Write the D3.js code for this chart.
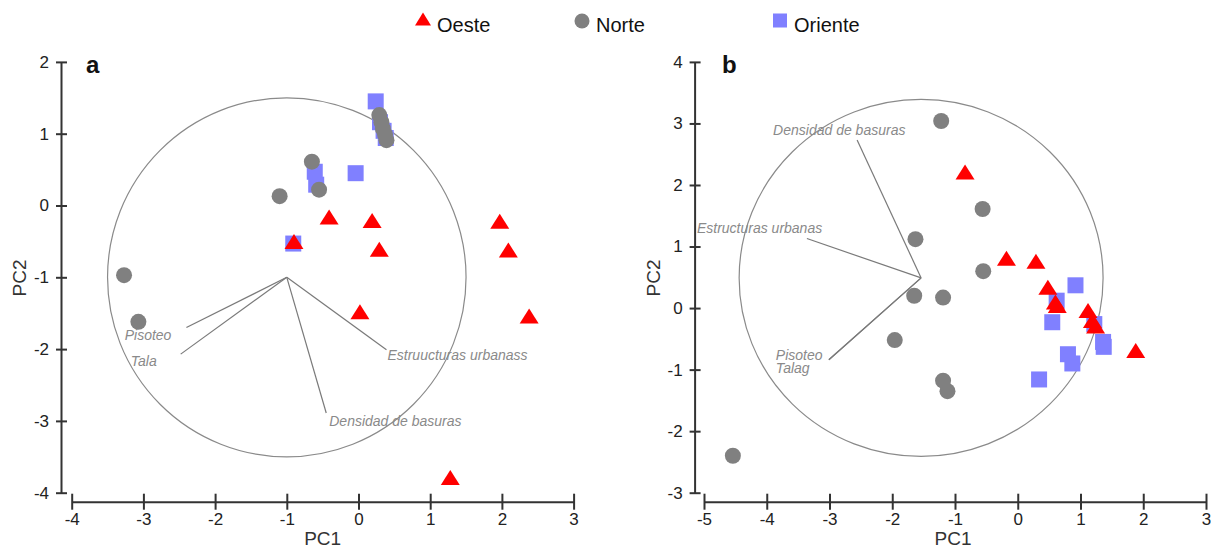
<!DOCTYPE html>
<html>
<head>
<meta charset="utf-8">
<script src="https://cdn.jsdelivr.net/npm/d3@7"></script>
<style>
  body { margin: 0; background: #fff; }
  svg { display: block; font-family: "Liberation Sans", Arial, sans-serif; }
  .tick text { font-family: "Liberation Sans", Arial, sans-serif; font-size: 17px; fill: #222; }
</style>
</head>
<body>
<svg id="chart" width="1211" height="550"></svg>
<script>
// ---- panel a : PC scores per zone [PC1, PC2]
var aOeste = [[-0.90,-0.50],[-0.41,-0.16],[0.19,-0.21],[0.29,-0.61],[1.97,-0.22],
              [2.09,-0.62],[0.02,-1.48],[2.38,-1.54],[1.28,-3.79]];
var aNorte = [[-3.27,-0.97],[-3.07,-1.62],[-1.10,0.13],[-0.65,0.61],[-0.55,0.22],
              [0.29,1.26],[0.32,1.16],[0.34,1.07],[0.37,0.99],[0.39,0.91]];
var aOriente = [[0.24,1.45],[0.30,1.16],[0.35,1.04],[0.38,0.94],[-0.04,0.45],
                [-0.61,0.47],[-0.59,0.29],[-0.91,-0.53]];
// loadings: label, end PC1, end PC2 (origin at circle centre)
var aVectors = [["Pisoteo",-2.40,-1.70],["Tala",-2.48,-2.07],
                ["Estruucturas urbanass",0.39,-2.01],["Densidad de basuras",-0.45,-2.89]];
var aCircle = {cx: -1, cy: -1, r: 2.5};

// ---- panel b
var bOeste = [[-0.84,2.21],[-0.18,0.81],[0.29,0.76],[0.48,0.34],[0.60,0.10],
              [0.63,0.04],[1.12,-0.04],[1.19,-0.20],[1.24,-0.29],[1.88,-0.69]];
var bNorte = [[-1.22,3.04],[-0.56,1.61],[-1.63,1.12],[-0.55,0.60],[-1.65,0.20],
              [-1.19,0.17],[-1.96,-0.52],[-1.19,-1.18],[-1.12,-1.35],[-4.54,-2.40]];
var bOriente = [[0.92,0.37],[0.62,0.12],[0.55,-0.23],[1.22,-0.26],[1.36,-0.55],
                [1.37,-0.63],[0.80,-0.75],[0.87,-0.90],[0.34,-1.16]];
var bVectors = [["Densidad de basuras",-2.56,2.73],["Estructuras urbanas",-3.36,1.13],
                ["Pisoteo",-3.01,-0.84],["Talag",-3.01,-0.84]];
var bCircle = {cx: -1.54, cy: 0.49, r: 2.9};

var groups = ["Oeste","Norte","Oriente"];

var colors = {Oeste: "#ff0000", Norte: "#808080", Oriente: "#8080ff"};
var triPath = "M0,-7.5L9.5,7.5L-9.5,7.5Z";

var svg = d3.select("#chart");

// legend
var legend = [
  {name: groups[0], mx: 423, tx: 437},
  {name: groups[1], mx: 582, tx: 596},
  {name: groups[2], mx: 780, tx: 794}
];
legend.forEach(function(l) {
  if (l.name == "Oeste") {
    svg.append("path").attr("d", "M0,-6.5L8,6.5L-8,6.5Z")
      .attr("transform", "translate(" + l.mx + ",19)").attr("fill", colors.Oeste);
  } else if (l.name == "Norte") {
    svg.append("circle").attr("cx", l.mx).attr("cy", 21).attr("r", 7.5).attr("fill", colors.Norte);
  } else {
    svg.append("rect").attr("x", l.mx - 7).attr("y", 13.5).attr("width", 14).attr("height", 14)
      .attr("fill", colors.Oriente);
  }
  svg.append("text").attr("x", l.tx).attr("y", 31.5).attr("font-size", "20px")
    .attr("fill", "#111").text(l.name);
});

function drawPanel(cfg) {
  var x = d3.scaleLinear().domain(cfg.xDomain).range([cfg.left, cfg.right]);
  var y = d3.scaleLinear().domain(cfg.yDomain).range([cfg.bottom, cfg.top]);
  var g = svg.append("g");

  // x axis
  var gx = g.append("g")
    .attr("transform", "translate(0," + cfg.xAxisY + ")")
    .call(d3.axisBottom(x)
      .tickValues(d3.range(cfg.xDomain[0], cfg.xDomain[1] + 1))
      .tickFormat(function(d) { return String(d); })
      .tickSizeOuter(0));
  gx.select(".domain").attr("stroke", "#333").attr("stroke-width", 2);
  gx.selectAll(".tick line").attr("y1", -8).attr("y2", 8).attr("stroke", "#333").attr("stroke-width", 2);
  gx.selectAll(".tick text").attr("y", 11);

  // y axis
  var gy = g.append("g")
    .attr("transform", "translate(" + cfg.yAxisX + ",0)")
    .call(d3.axisLeft(y)
      .tickValues(d3.range(cfg.yDomain[0], cfg.yDomain[1] + 1))
      .tickFormat(function(d) { return String(d); })
      .tickSizeOuter(0));
  gy.select(".domain").attr("stroke", "#333").attr("stroke-width", 2);
  gy.selectAll(".tick line").attr("x1", -5).attr("x2", 6).attr("stroke", "#333").attr("stroke-width", 2);
  gy.selectAll(".tick text").attr("x", -12);

  // axis titles
  g.append("text").attr("x", (cfg.left + cfg.right) / 2 + cfg.xTitleShift).attr("y", 545)
    .attr("text-anchor", "middle").attr("font-size", "19px").attr("fill", "#333")
    .text("PC1");
  g.append("text")
    .attr("transform", "translate(" + (cfg.yAxisX - 35) + ",278) rotate(-90)")
    .attr("text-anchor", "middle").attr("font-size", "19px").attr("fill", "#333")
    .text("PC2");

  // panel letter
  g.append("text").attr("x", cfg.letterX).attr("y", 73).attr("font-size", "24px")
    .attr("font-weight", "bold").attr("fill", "#111").text(cfg.letter);

  // correlation circle
  var c = cfg.circle;
  g.append("ellipse")
    .attr("cx", x(c.cx)).attr("cy", y(c.cy))
    .attr("rx", x(c.cx + c.r) - x(c.cx)).attr("ry", y(c.cy) - y(c.cy + c.r))
    .attr("fill", "none").attr("stroke", "#8a8a8a").attr("stroke-width", 1.2);

  // loading vectors
  cfg.vectors.forEach(function(v, i) {
    g.append("line")
      .attr("x1", x(c.cx)).attr("y1", y(c.cy))
      .attr("x2", x(v[1])).attr("y2", y(v[2]))
      .attr("stroke", "#7a7a7a").attr("stroke-width", 1.2);
    var off = cfg.labelOffsets[i];
    g.append("text")
      .attr("x", x(v[1]) + off[0]).attr("y", y(v[2]) + off[1])
      .attr("text-anchor", off[2])
      .attr("font-size", "14px").attr("font-style", "italic").attr("fill", "#8a8a8a")
      .text(v[0]);
  });

  // points: squares, then circles, then triangles
  g.selectAll("rect.pt").data(cfg.oriente).enter().append("rect")
    .attr("class", "pt")
    .attr("x", function(d) { return x(d[0]) - 8; })
    .attr("y", function(d) { return y(d[1]) - 8; })
    .attr("width", 16).attr("height", 16)
    .attr("fill", colors.Oriente);
  g.selectAll("circle.pt").data(cfg.norte).enter().append("circle")
    .attr("class", "pt")
    .attr("cx", function(d) { return x(d[0]); })
    .attr("cy", function(d) { return y(d[1]); })
    .attr("r", 8).attr("fill", colors.Norte);
  g.selectAll("path.pt").data(cfg.oeste).enter().append("path")
    .attr("class", "pt")
    .attr("d", triPath)
    .attr("transform", function(d) { return "translate(" + x(d[0]) + "," + y(d[1]) + ")"; })
    .attr("fill", colors.Oeste);
}

drawPanel({
  letter: "a", letterX: 86,
  xDomain: [-4, 3], yDomain: [-4, 2],
  left: 71.7, right: 573.6, top: 61.9, bottom: 492.7,
  xAxisY: 501.7, yAxisX: 61, xTitleShift: 0,
  circle: aCircle, vectors: aVectors,
  labelOffsets: [[-15, 12, "end"], [-24, 12, "end"], [1, 10, "start"], [3, 13, "start"]],
  oeste: aOeste, norte: aNorte, oriente: aOriente
});

drawPanel({
  letter: "b", letterX: 722,
  xDomain: [-5, 3], yDomain: [-3, 4],
  left: 704, right: 1206, top: 61.9, bottom: 492.7,
  xAxisY: 501.7, yAxisX: 694.6, xTitleShift: -2,
  circle: bCircle, vectors: bVectors,
  labelOffsets: [[-84, -5, "start"], [-110, -6, "start"], [-53, 0, "start"], [-53, 13, "start"]],
  oeste: bOeste, norte: bNorte, oriente: bOriente
});
</script>
</body>
</html>
